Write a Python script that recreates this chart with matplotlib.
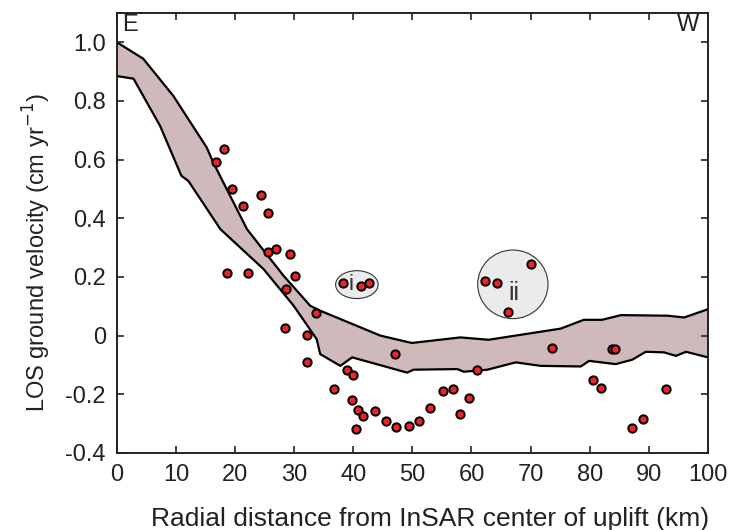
import matplotlib
matplotlib.use("Agg")
import matplotlib.pyplot as plt
from matplotlib.patches import Ellipse
import numpy as np

plt.rcParams['font.family'] = ['Liberation Sans', 'DejaVu Sans']

# upper and lower bounds of the model band
upper_x = [0, 4.45, 9.55, 15.2, 16.3, 20.3, 22.0, 28.2, 32.7, 34.4, 44.6, 49.9,
           58.1, 62.9, 75.1, 79.0, 82.1, 85.3, 93.2, 96.0, 100]
upper_y = [1.0, 0.944, 0.817, 0.641, 0.590, 0.431, 0.363, 0.204, 0.102, 0.085, 0.0, -0.025,
           -0.006, -0.014, 0.024, 0.054, 0.054, 0.070, 0.068, 0.062, 0.090]
lower_x = [0, 2.8, 7.3, 10.9, 12.1, 17.5, 24.8, 29.9, 33.8, 34.4, 37.8, 39.8, 49.1, 50.2,
           57.6, 58.7, 62.7, 67.5, 71.7, 78.5, 79.9, 84.4, 87.2, 89.5, 92.6, 94.6, 96.3, 100]
lower_y = [0.885, 0.876, 0.715, 0.545, 0.527, 0.363, 0.227, 0.102, -0.012, -0.063, -0.103,
           -0.074, -0.126, -0.116, -0.114, -0.123, -0.116, -0.091, -0.103, -0.105, -0.086,
           -0.097, -0.082, -0.055, -0.057, -0.069, -0.055, -0.074]

# GPS observations
obs_x = [16.7, 18.1, 19.5, 21.3, 24.4, 25.5, 25.6, 26.9, 29.2, 18.7, 22.2, 30.1, 28.6,
         38.3, 41.3, 42.7, 33.7, 28.4, 32.1, 32.1, 47.0, 39.0, 40.0, 36.8, 39.7, 40.8,
         41.6, 43.6, 40.4, 45.6, 47.3, 49.4, 51.2, 52.9, 55.1, 56.8, 58.1, 59.5, 61.0,
         62.3, 64.4, 66.2, 70.1, 73.6, 83.7, 84.3, 80.6, 82.0, 87.1, 89.0, 93.0]
obs_y = [0.592, 0.635, 0.499, 0.442, 0.479, 0.417, 0.286, 0.295, 0.277, 0.215, 0.215,
         0.202, 0.158, 0.181, 0.168, 0.181, 0.076, 0.025, 0.002, -0.091, -0.061, -0.116,
         -0.135, -0.183, -0.219, -0.252, -0.274, -0.257, -0.319, -0.292, -0.311, -0.309,
         -0.292, -0.245, -0.188, -0.183, -0.266, -0.214, -0.116, 0.185, 0.180, 0.080,
         0.245, -0.043, -0.047, -0.047, -0.152, -0.179, -0.314, -0.283, -0.183]

fig = plt.figure(figsize=(7.32, 5.30), dpi=100)
ax = fig.add_axes([0.1598, 0.1453, 0.8072, 0.8302])

# band polygon
poly_x = np.concatenate([upper_x, lower_x[::-1]])
poly_y = np.concatenate([upper_y, lower_y[::-1]])
ax.fill(poly_x, poly_y, facecolor='#cfb9ba', edgecolor='none', zorder=1)
ax.plot(upper_x, upper_y, color='black', lw=1.6, zorder=2)
ax.plot(lower_x, lower_y, color='black', lw=1.6, zorder=2)

# outlier groups
ax.add_patch(Ellipse((40.6, 0.174), 7.2, 0.095, facecolor='#ebebeb',
                     edgecolor='#333333', lw=0.8, zorder=3))
ax.add_patch(Ellipse((67.0, 0.175), 11.9, 0.234, facecolor='#ebebeb',
                     edgecolor='#333333', lw=0.8, zorder=3))
ax.text(39.6, 0.174, 'i', fontsize=16, ha='center', va='center', color='#333333', zorder=4)
ax.text(67.2, 0.147, 'ii', fontsize=18, ha='center', va='center', color='#333333', zorder=4)

ax.scatter(obs_x, obs_y, s=36, facecolor='#ec2327', edgecolor='black', lw=1.4, zorder=5)

ax.text(0.9, 1.098, 'E', fontsize=17, ha='left', va='top', color='#222222')
ax.text(98.6, 1.098, 'W', fontsize=17, ha='right', va='top', color='#222222')

ax.set_xlim(0, 100)
ax.set_ylim(-0.4, 1.1)
ax.set_xticks(np.arange(0, 101, 10))
ax.set_yticks(np.arange(-0.4, 1.01, 0.2))
ax.set_yticklabels(['-0.4', '-0.2', '0', '0.2', '0.4', '0.6', '0.8', '1.0'])
ax.tick_params(direction='in', top=True, right=True, length=5, width=1.2,
               labelsize=17, colors='#222222', pad=8)
for sp in ax.spines.values():
    sp.set_linewidth(1.4)
    sp.set_color('#222222')

ax.set_xlabel('Radial distance from InSAR center of uplift (km)', fontsize=19,
              color='#222222')
ax.xaxis.set_label_coords(0.53, -0.123)
ax.set_ylabel('LOS ground velocity (cm yr$^{-1}$)', fontsize=17, color='#222222')
ax.yaxis.set_label_coords(-0.108, 0.455)

fig.savefig('out.png', dpi=100)
